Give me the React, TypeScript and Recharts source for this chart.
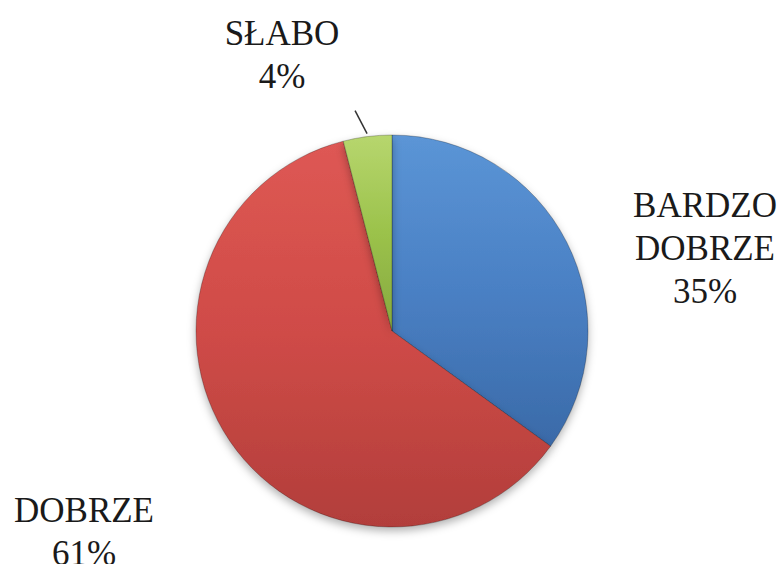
import React from 'react';
import { PieChart, Pie, Cell } from 'recharts';

const categories = ['BARDZO DOBRZE', 'DOBRZE', 'SŁABO'];
const shares = [35, 61, 4];

const data = categories.map((name, i) => ({ name, value: shares[i] }));

// gradient stops per slice: light top, darker bottom (office-style bevel)
const FILLS = [
  { id: 'gBlue', top: '#5b95d6', mid: '#4a80c4', bottom: '#3a6aa8' },
  { id: 'gRed', top: '#de5854', mid: '#cf4b47', bottom: '#b23e3b' },
  { id: 'gGreen', top: '#b7d66e', mid: '#9bc24b', bottom: '#86a83f' },
];

// label placement relative to the pie centre
const LABEL_OFFSETS = [
  { dx: 313, dy: -114 },
  { dx: -308, dy: 191 },
  { dx: -110, dy: -286 },
];

const LINE_H = 43;
const RAD = Math.PI / 180;
const FONT = 'Liberation Serif, DejaVu Serif, serif';

function renderLabel(props: any) {
  const { cx, cy, midAngle, outerRadius, index, name, percent } = props;
  const off = LABEL_OFFSETS[index];
  const x = cx + off.dx;
  const y = cy + off.dy;
  const lines = [...String(name).split(' '), `${Math.round(percent * 100)}%`];
  let leader = null;
  if (index === 2) {
    const sx = cx + (outerRadius + 3) * Math.cos(-midAngle * RAD);
    const sy = cy + (outerRadius + 3) * Math.sin(-midAngle * RAD);
    leader = <line x1={sx} y1={sy} x2={sx - 12} y2={sy - 23} stroke="#333" strokeWidth={1.5} />;
  }
  return (
    <g>
      {leader}
      <text x={x} y={y} textAnchor="middle" fill="#1a1a1a" fontSize={35} fontFamily={FONT}>
        {lines.map((l, i) => (
          <tspan key={i} x={x} y={y + i * LINE_H} fontFamily={FONT}>{l}</tspan>
        ))}
      </text>
    </g>
  );
}

export default function App() {
  return (
    <div style={{ position: 'absolute', left: 0, top: 0, width: 782, height: 564, background: '#fff', fontFamily: FONT }}>
      <PieChart width={782} height={564} margin={{ top: 0, right: 0, bottom: 0, left: 0 }}>
        <defs>
          {FILLS.map((f) => (
            <linearGradient key={f.id} id={f.id} x1="0" y1="0" x2="0" y2="1">
              <stop offset="0%" stopColor={f.top} />
              <stop offset="50%" stopColor={f.mid} />
              <stop offset="100%" stopColor={f.bottom} />
            </linearGradient>
          ))}
          <filter id="pieShadow" x="-20%" y="-20%" width="140%" height="140%">
            <feDropShadow dx="0" dy="4" stdDeviation="4" floodColor="#000" floodOpacity="0.3" />
          </filter>
        </defs>
        <Pie
          data={data}
          dataKey="value"
          nameKey="name"
          cx={392}
          cy={331}
          outerRadius={196}
          startAngle={90}
          endAngle={-270}
          stroke="rgba(0,0,0,0.25)"
          strokeWidth={1}
          label={renderLabel}
          labelLine={false}
          isAnimationActive={false}
          style={{ filter: 'url(#pieShadow)' }}
        >
          {data.map((d, i) => (
            <Cell key={d.name} fill={`url(#${FILLS[i].id})`} />
          ))}
        </Pie>
      </PieChart>
    </div>
  );
}
